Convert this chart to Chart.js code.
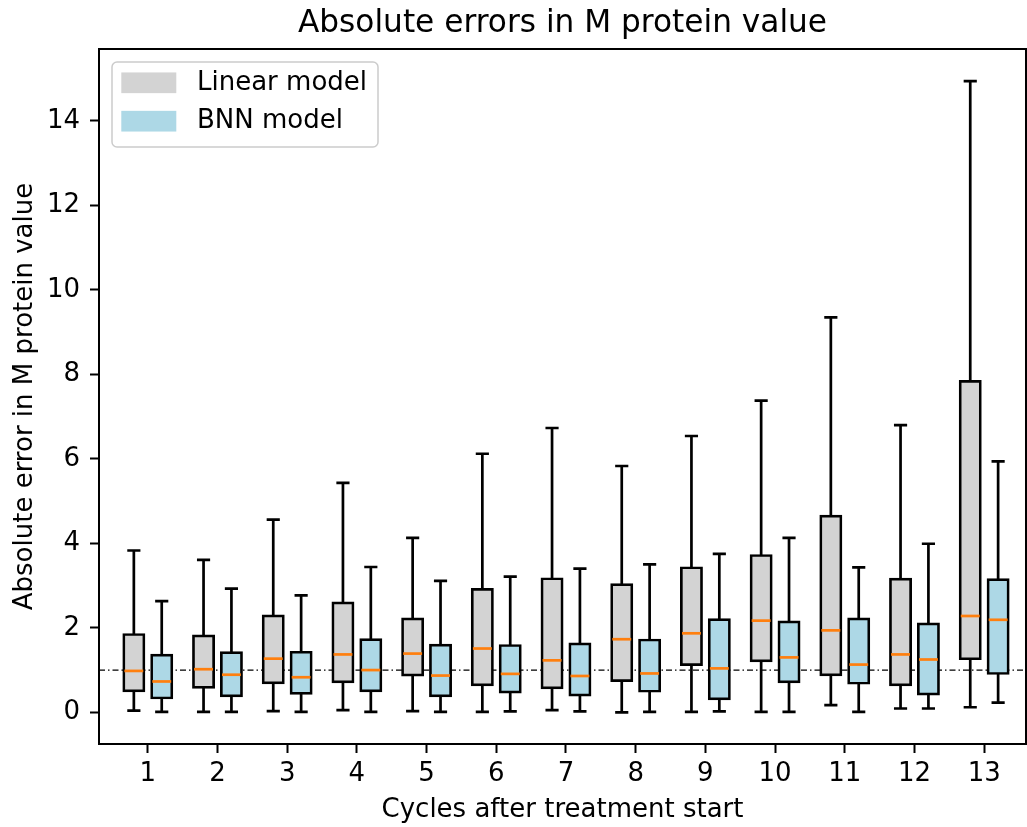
<!DOCTYPE html>
<html>
<head>
<meta charset="utf-8">
<script src="https://cdn.jsdelivr.net/npm/chart.js@4"></script>
<style>
  body { margin: 0; background: #fff; }
</style>
</head>
<body>
<canvas id="errChart" width="1027" height="827"></canvas>
<script>
// cycles after treatment start
const cycles = [1, 2, 3, 4, 5, 6, 7, 8, 9, 10, 11, 12, 13];

// linear model: whisker ends, quartiles, median
const linearMin = [0.04, 0.01, 0.03, 0.05, 0.03, 0.01, 0.05, 0.00, 0.01, 0.01, 0.17, 0.09, 0.12];
const linearQ1  = [0.50, 0.58, 0.69, 0.71, 0.87, 0.64, 0.57, 0.74, 1.12, 1.21, 0.88, 0.64, 1.26];
const linearMed = [0.98, 1.02, 1.27, 1.37, 1.39, 1.51, 1.23, 1.73, 1.87, 2.17, 1.94, 1.37, 2.28];
const linearQ3  = [1.85, 1.82, 2.29, 2.60, 2.22, 2.92, 3.17, 3.03, 3.43, 3.72, 4.65, 3.16, 7.84];
const linearMax = [3.83, 3.61, 4.56, 5.43, 4.13, 6.12, 6.73, 5.83, 6.54, 7.38, 9.35, 6.80, 14.94];

// BNN model
const bnnMin = [0.01, 0.01, 0.01, 0.01, 0.01, 0.02, 0.02, 0.01, 0.02, 0.01, 0.01, 0.09, 0.23];
const bnnQ1  = [0.33, 0.38, 0.44, 0.50, 0.38, 0.47, 0.40, 0.49, 0.31, 0.71, 0.68, 0.42, 0.91];
const bnnMed = [0.73, 0.89, 0.83, 1.00, 0.87, 0.91, 0.86, 0.92, 1.04, 1.30, 1.13, 1.25, 2.19];
const bnnQ3  = [1.36, 1.42, 1.43, 1.73, 1.60, 1.59, 1.63, 1.72, 2.20, 2.15, 2.22, 2.10, 3.15];
const bnnMax = [2.63, 2.93, 2.77, 3.44, 3.11, 3.21, 3.40, 3.50, 3.75, 4.13, 3.43, 3.99, 5.94];

const yTicks = [0, 2, 4, 6, 8, 10, 12, 14];
const refLevel = 1;   // dash-dot reference line

const xMin = 0.3, xMax = 13.6;
const yMin = -0.75, yMax = 15.7;

const FONT = 'DejaVu Sans';
const LW = 2.7;
Chart.defaults.font.family = FONT;
Chart.defaults.color = '#000';

function boxData(lo, hi) {
    return cycles.map((c, i) => ({ x: c, y: [lo[i], hi[i]] }));
}

// whiskers, caps and medians on top of the boxes
const boxWhiskers = {
    id: 'boxWhiskers',
    afterDatasetsDraw(chart) {
        const ctx = chart.ctx;
        const ys = chart.scales.y;
        ctx.save();
        chart.data.datasets.forEach((ds, di) => {
            if (!ds.stats) return;
            const meta = chart.getDatasetMeta(di);
            meta.data.forEach((bar, i) => {
                const st = ds.stats;
                const x = bar.x;
                const half = bar.width / 2;
                const pMin = ys.getPixelForValue(st.min[i]);
                const pQ1 = ys.getPixelForValue(ds.data[i].y[0]);
                const pQ3 = ys.getPixelForValue(ds.data[i].y[1]);
                const pMax = ys.getPixelForValue(st.max[i]);
                const pMed = ys.getPixelForValue(st.med[i]);

                ctx.strokeStyle = '#000';
                ctx.lineWidth = LW;
                ctx.lineCap = 'butt';
                ctx.beginPath();
                ctx.moveTo(x, pQ1); ctx.lineTo(x, pMin);
                ctx.moveTo(x, pQ3); ctx.lineTo(x, pMax);
                ctx.stroke();

                ctx.lineCap = 'square';
                ctx.beginPath();
                ctx.moveTo(x - half / 2, pMin); ctx.lineTo(x + half / 2, pMin);
                ctx.moveTo(x - half / 2, pMax); ctx.lineTo(x + half / 2, pMax);
                ctx.stroke();

                ctx.lineCap = 'butt';
                ctx.strokeStyle = '#ff7f0e';
                ctx.beginPath();
                ctx.moveTo(x - half + 1, pMed); ctx.lineTo(x + half - 1, pMed);
                ctx.stroke();
            });
        });
        ctx.restore();
    }
};

// top/right spines and the legend box inside the plot
const frameAndLegend = {
    id: 'frameAndLegend',
    afterDraw(chart) {
        const ctx = chart.ctx;
        const a = chart.chartArea;
        ctx.save();
        ctx.strokeStyle = '#000';
        ctx.lineWidth = 2;
        ctx.beginPath();
        ctx.moveTo(a.left, a.top); ctx.lineTo(a.right, a.top); ctx.lineTo(a.right, a.bottom);
        ctx.stroke();

        const items = chart.data.datasets.filter(ds => ds.stats);
        const x0 = a.left + 13, y0 = a.top + 13;
        const w = 266, h = 85;
        ctx.beginPath();
        if (ctx.roundRect) ctx.roundRect(x0, y0, w, h, 5); else ctx.rect(x0, y0, w, h);
        ctx.fillStyle = 'rgba(255,255,255,0.8)';
        ctx.fill();
        ctx.strokeStyle = '#cccccc';
        ctx.lineWidth = 1.5;
        ctx.stroke();

        ctx.font = '26px "' + FONT + '"';
        ctx.textBaseline = 'middle';
        ctx.textAlign = 'left';
        items.forEach((ds, i) => {
            const py = y0 + 10.4 + i * 38.4;
            ctx.fillStyle = ds.backgroundColor;
            ctx.fillRect(x0 + 9.3, py, 55, 20.7);
            ctx.fillStyle = '#000';
            ctx.fillText(ds.label, x0 + 85, py + 10.5);
        });
        ctx.restore();
    }
};

new Chart(document.getElementById('errChart'), {
    type: 'bar',
    data: {
        datasets: [
            {
                label: 'Linear model',
                data: boxData(linearQ1, linearQ3),
                stats: { min: linearMin, med: linearMed, max: linearMax },
                backgroundColor: '#d3d3d3',
                borderColor: '#000',
                borderWidth: LW,
                borderSkipped: false,
                inflateAmount: 1,
                categoryPercentage: 0.8,
                barPercentage: 0.75,
                order: 1
            },
            {
                label: 'BNN model',
                data: boxData(bnnQ1, bnnQ3),
                stats: { min: bnnMin, med: bnnMed, max: bnnMax },
                backgroundColor: '#add8e6',
                borderColor: '#000',
                borderWidth: LW,
                borderSkipped: false,
                inflateAmount: 1,
                categoryPercentage: 0.8,
                barPercentage: 0.75,
                order: 1
            },
            {
                type: 'line',
                label: 'ref',
                data: [{ x: xMin, y: refLevel }, { x: xMax, y: refLevel }],
                borderColor: '#000',
                borderWidth: 1.3,
                borderDash: [6, 3, 1.5, 3],
                pointRadius: 0,
                fill: false,
                order: 2
            }
        ]
    },
    options: {
        responsive: false,
        animation: false,
        layout: { padding: { left: 0, right: 1, top: 0, bottom: 0 } },
        plugins: {
            legend: { display: false },
            tooltip: { enabled: false },
            title: {
                display: true,
                fullSize: false,
                text: 'Absolute errors in M protein value',
                color: '#000',
                font: { size: 31.2, weight: 'normal' },
                padding: { top: 5.4, bottom: 6.2 }
            }
        },
        scales: {
            x: {
                type: 'linear',
                min: xMin,
                max: xMax,
                offset: false,
                afterBuildTicks: axis => { axis.ticks = cycles.map(v => ({ value: v })); },
                afterFit: axis => { axis.height = 83; },
                grid: {
                    offset: false,
                    drawOnChartArea: false,
                    drawTicks: true,
                    tickLength: 9,
                    tickWidth: 2,
                    tickColor: '#000'
                },
                border: { display: true, color: '#000', width: 2 },
                ticks: { color: '#000', font: { size: 26 }, padding: 6, maxRotation: 0, autoSkip: false },
                title: {
                    display: true,
                    text: 'Cycles after treatment start',
                    color: '#000',
                    font: { size: 26 },
                    padding: { top: 0, bottom: 1.6 }
                }
            },
            y: {
                min: yMin,
                max: yMax,
                afterBuildTicks: axis => { axis.ticks = yTicks.map(v => ({ value: v })); },
                afterFit: axis => { axis.width = 99; },
                grid: {
                    drawOnChartArea: false,
                    drawTicks: true,
                    tickLength: 9,
                    tickWidth: 2,
                    tickColor: '#000'
                },
                border: { display: true, color: '#000', width: 2 },
                ticks: { color: '#000', font: { size: 26 }, padding: 10 },
                title: {
                    display: true,
                    text: 'Absolute error in M protein value',
                    color: '#000',
                    font: { size: 26 },
                    padding: { top: 10, bottom: 0 }
                }
            }
        }
    },
    plugins: [boxWhiskers, frameAndLegend]
});
</script>
</body>
</html>
